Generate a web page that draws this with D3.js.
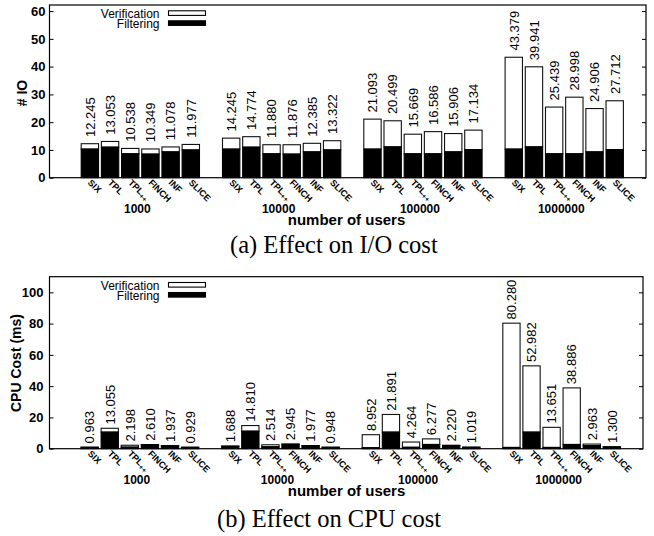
<!DOCTYPE html>
<html><head><meta charset="utf-8">
<script src="https://cdn.jsdelivr.net/npm/d3@7"></script>
<style>body{margin:0;background:#fff}svg{display:block}</style>
</head><body><svg id="c" width="654" height="536"></svg>
<script>
// ---------------- data ----------------
const methods = ["SIX", "TPL", "TPL++", "FINCH", "INF", "SLICE"];
const userGroups = ["1000", "10000", "100000", "1000000"];

const ioTotals1000    = [12.245, 13.053, 10.538, 10.349, 11.078, 11.977];
const ioTotals10000   = [14.245, 14.774, 11.880, 11.876, 12.385, 13.322];
const ioTotals100000  = [21.093, 20.499, 15.669, 16.586, 15.906, 17.134];
const ioTotals1000000 = [43.379, 39.941, 25.439, 28.998, 24.906, 27.712];
const ioFiltering1000    = [10.3, 11.0, 8.6, 8.5, 9.3, 10.0];
const ioFiltering10000   = [10.3, 11.0, 8.6, 8.5, 9.3, 10.0];
const ioFiltering100000  = [10.3, 11.1, 8.6, 8.6, 9.3, 10.1];
const ioFiltering1000000 = [10.3, 11.1, 8.6, 8.6, 9.3, 10.1];

const cpuTotals1000    = [0.963, 13.055, 2.198, 2.610, 1.937, 0.929];
const cpuTotals10000   = [1.688, 14.810, 2.514, 2.945, 1.977, 0.948];
const cpuTotals100000  = [8.952, 21.891, 4.264, 6.277, 2.220, 1.019];
const cpuTotals1000000 = [80.280, 52.982, 13.651, 38.886, 2.963, 1.300];
const cpuFiltering1000    = [0.9, 10.6, 1.0, 2.6, 1.9, 0.9];
const cpuFiltering10000   = [1.6, 11.2, 1.2, 2.9, 1.9, 0.9];
const cpuFiltering100000  = [0.6, 10.6, 0.9, 2.7, 2.0, 0.9];
const cpuFiltering1000000 = [0.8, 10.6, 0.8, 2.7, 2.0, 1.1];

const ioTicks  = [0, 10, 20, 30, 40, 50, 60];
const cpuTicks = [0, 20, 40, 60, 80, 100];
const legendLabels = ["Verification", "Filtering"];

// ---------------- drawing ----------------
const svg = d3.select("#c");
const SANS = "'Liberation Sans', Arial, Helvetica, sans-serif";
const SERIF = "'Liberation Serif', 'Times New Roman', serif";
const fmt = d3.format(".3f");

function drawPanel(cfg) {
  const g = svg.append("g");
  const slotsPerGroup = methods.length + 1;
  const x = d3.scaleLinear().domain([0, 29.55]).range([cfg.x0, cfg.x1]);
  const y = d3.scaleLinear().domain([0, cfg.yMax]).range([cfg.yBase, cfg.yTop]);
  const bw = 0.86;

  const rows = [];
  cfg.totals.forEach((arr, gi) => arr.forEach((t, mi) => {
    rows.push({slot: gi * slotsPerGroup + mi + 2, total: t,
               filt: Math.min(cfg.filtering[gi][mi], t), method: methods[mi]});
  }));

  // bars: verification (white, top) and filtering (black, bottom)
  g.selectAll("rect.v").data(rows).join("rect")
    .attr("x", d => x(d.slot - bw / 2)).attr("width", x(bw) - x(0))
    .attr("y", d => y(d.total)).attr("height", d => y(d.filt) - y(d.total))
    .attr("fill", "#fff").attr("stroke", "#111").attr("stroke-width", 1.1);
  g.selectAll("rect.f").data(rows).join("rect")
    .attr("x", d => x(d.slot - bw / 2)).attr("width", x(bw) - x(0))
    .attr("y", d => y(d.filt)).attr("height", d => y(0) - y(d.filt))
    .attr("fill", "#000").attr("stroke", "#000").attr("stroke-width", 1.1);

  // value labels
  g.selectAll("text.val").data(rows).join("text")
    .attr("transform", d => `translate(${x(d.slot) + 4.8},${y(d.total + 2.4)}) rotate(-90)`)
    .attr("font-family", SANS).attr("font-size", 13).attr("fill", "#000")
    .text(d => fmt(d.total));

  // frame
  g.append("rect").attr("x", cfg.x0).attr("y", cfg.yTop)
    .attr("width", cfg.x1 - cfg.x0).attr("height", cfg.yBase - cfg.yTop)
    .attr("fill", "none").attr("stroke", "#000").attr("stroke-width", 1.2);

  // y axes
  const ay = g.append("g").attr("transform", `translate(${cfg.x0},0)`)
    .call(d3.axisLeft(y).tickValues(cfg.ticks).tickSize(-4).tickPadding(cfg.tickPad));
  ay.select(".domain").remove();
  ay.selectAll("text").attr("font-family", SANS).attr("font-weight", "bold").attr("font-size", 13).attr("fill", "#000");
  ay.selectAll("line").attr("stroke", "#000");
  const ay2 = g.append("g").attr("transform", `translate(${cfg.x1},0)`)
    .call(d3.axisRight(y).tickValues(cfg.ticks).tickSize(-4).tickFormat(""));
  ay2.select(".domain").remove();
  ay2.selectAll("line").attr("stroke", "#000");

  // x axis (method labels)
  const ax = g.append("g").attr("transform", `translate(0,${cfg.yBase})`)
    .call(d3.axisBottom(x).tickValues(rows.map(d => d.slot)).tickSize(0)
      .tickFormat((v, i) => rows[i].method));
  ax.select(".domain").remove();
  ax.selectAll("text")
    .attr("x", 0).attr("y", 0).attr("dy", 0)
    .attr("transform", "translate(-3,5.5) rotate(45)")
    .attr("text-anchor", "start")
    .attr("font-family", SANS).attr("font-weight", "bold").attr("font-size", 9).attr("fill", "#000")
    .each(function() {
      const t = d3.select(this);
      const s = t.text();
      if (s.endsWith("++")) {
        t.text(s.slice(0, -2));
        t.append("tspan").attr("font-size", 7).attr("dy", 1.8).text("++");
      }
    });

  // group labels
  g.selectAll("text.grp").data(userGroups).join("text")
    .attr("x", (d, i) => x(i * slotsPerGroup + 4.5) - 3).attr("y", cfg.yBase + 35.5)
    .attr("text-anchor", "middle").attr("font-family", SANS).attr("font-weight", "bold")
    .attr("font-size", 12).text(d => d);

  // x title
  g.append("text").attr("x", 346.5).attr("y", cfg.yBase + 47)
    .attr("text-anchor", "middle").attr("font-family", SANS).attr("font-weight", "bold")
    .attr("font-size", 15).text("number of users");

  // y title
  g.append("text")
    .attr("transform", `translate(${cfg.ylabX},${cfg.ylabY}) rotate(-90)`)
    .attr("text-anchor", "middle").attr("font-family", SANS).attr("font-weight", "bold")
    .attr("font-size", 14).text(cfg.ylabel);

  // legend
  legendLabels.forEach((lab, i) => {
    g.append("text").attr("x", 159.5).attr("y", cfg.yTop + 13.2 + i * 9.8)
      .attr("text-anchor", "end").attr("font-family", SANS).attr("font-size", 12).text(lab);
    g.append("rect").attr("x", 168.5).attr("y", cfg.yTop + 5.8 + i * 10)
      .attr("width", 37).attr("height", 4.6)
      .attr("fill", i === 0 ? "#fff" : "#000").attr("stroke", "#000").attr("stroke-width", 1.1);
  });

  // caption
  g.append("text").attr("x", cfg.capX).attr("y", cfg.capY)
    .attr("font-family", SERIF).attr("font-size", 24.5).text(cfg.caption);
}

drawPanel({
  totals: [ioTotals1000, ioTotals10000, ioTotals100000, ioTotals1000000],
  filtering: [ioFiltering1000, ioFiltering10000, ioFiltering100000, ioFiltering1000000],
  x0: 49.5, x1: 646, yTop: 5, yBase: 177.7, yMax: 62.2, ticks: ioTicks, tickPad: 4,
  ylabel: "# IO", ylabX: 26.5, ylabY: 93,
  caption: "(a) Effect on I/O cost", capX: 230, capY: 252.5
});
drawPanel({
  totals: [cpuTotals1000, cpuTotals10000, cpuTotals100000, cpuTotals1000000],
  filtering: [cpuFiltering1000, cpuFiltering10000, cpuFiltering100000, cpuFiltering1000000],
  x0: 49.5, x1: 643, yTop: 276.7, yBase: 448.7, yMax: 110, ticks: cpuTicks, tickPad: 6,
  ylabel: "CPU Cost (ms)", ylabX: 20.5, ylabY: 363,
  caption: "(b) Effect on CPU cost", capX: 217, capY: 527
});
</script></body></html>
